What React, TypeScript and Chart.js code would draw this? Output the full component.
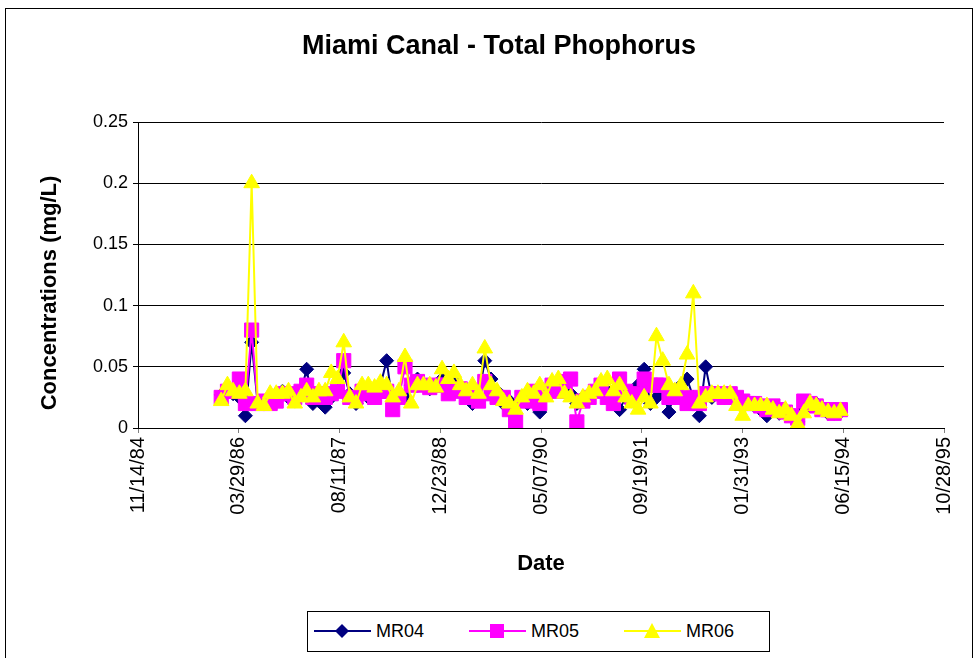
import React, { useEffect, useRef } from "react";
import { Chart, registerables } from "chart.js";

Chart.register(...registerables);

// Sampling months (first of month)
const sampleMonths = [
  "1986-01", "1986-02", "1986-03", "1986-04", "1986-05", "1986-06", "1986-07", "1986-08", "1986-09", "1986-10", "1986-11", "1986-12",
  "1987-01", "1987-02", "1987-03", "1987-04", "1987-05", "1987-06", "1987-07", "1987-08", "1987-09", "1987-10", "1987-11", "1987-12",
  "1988-01", "1988-02", "1988-03", "1988-04", "1988-05", "1988-06", "1988-07", "1988-08", "1988-09", "1988-10", "1988-11", "1988-12",
  "1989-01", "1989-02", "1989-03", "1989-04", "1989-05", "1989-06", "1989-07", "1989-08", "1989-09", "1989-10", "1989-11", "1989-12",
  "1990-01", "1990-02", "1990-03", "1990-04", "1990-05", "1990-06", "1990-07", "1990-08", "1990-09", "1990-10", "1990-11", "1990-12",
  "1991-01", "1991-02", "1991-03", "1991-04", "1991-05", "1991-06", "1991-07", "1991-08", "1991-09", "1991-10", "1991-11", "1991-12",
  "1992-01", "1992-02", "1992-03", "1992-04", "1992-05", "1992-06", "1992-07", "1992-08", "1992-09", "1992-10", "1992-11", "1992-12",
  "1993-01", "1993-02", "1993-03", "1993-04", "1993-05", "1993-06", "1993-07", "1993-08", "1993-09", "1993-10", "1993-11", "1993-12",
  "1994-01", "1994-02", "1994-03", "1994-04", "1994-05", "1994-06",
];

const mr04 = [
  0.027, 0.03, 0.028, 0.025, 0.01, 0.07, 0.02, 0.02, 0.025, 0.028,
  0.03, 0.025, 0.022, 0.03, 0.048, 0.02, 0.022, 0.017, 0.025, 0.03,
  0.045, 0.028, 0.02, 0.03, 0.025, 0.03, 0.035, 0.055, 0.02, 0.025,
  0.025, 0.035, 0.04, 0.035, 0.032, 0.035, 0.04, 0.03, 0.038, 0.03,
  0.028, 0.02, 0.025, 0.055, 0.04, 0.03, 0.02, 0.022, 0.018, 0.025,
  0.02, 0.03, 0.013, 0.028, 0.03, 0.03, 0.035, 0.028, 0.02, 0.025,
  0.025, 0.03, 0.035, 0.03, 0.025, 0.015, 0.025, 0.022, 0.035, 0.048,
  0.02, 0.025, 0.03, 0.013, 0.03, 0.035, 0.04, 0.025, 0.01, 0.05,
  0.025, 0.028, 0.025, 0.028, 0.022, 0.02, 0.02, 0.018, 0.015, 0.01,
  0.015, 0.012, 0.015, 0.01, 0.005, 0.015, 0.018, 0.02, 0.015, 0.012,
  0.012, 0.013,
];

const mr05 = [
  0.025, 0.03, 0.03, 0.04, 0.02, 0.08, 0.02, 0.022, 0.02, 0.022,
  0.028, 0.028, 0.025, 0.03, 0.035, 0.025, 0.028, 0.025, 0.028, 0.03,
  0.055, 0.025, 0.025, 0.03, 0.028, 0.025, 0.03, 0.03, 0.015, 0.025,
  0.05, 0.035, 0.038, 0.035, 0.033, 0.035, 0.035, 0.028, 0.03, 0.032,
  0.025, 0.025, 0.022, 0.038, 0.028, 0.025, 0.025, 0.015, 0.005, 0.025,
  0.022, 0.03, 0.02, 0.03, 0.035, 0.03, 0.038, 0.04, 0.005, 0.022,
  0.025, 0.03, 0.035, 0.025, 0.02, 0.04, 0.03, 0.025, 0.028, 0.04,
  0.035, 0.035, 0.035, 0.025, 0.03, 0.025, 0.02, 0.025, 0.02, 0.028,
  0.028, 0.028, 0.025, 0.028, 0.025, 0.022, 0.02, 0.02, 0.018, 0.015,
  0.018, 0.015, 0.013, 0.01, 0.008, 0.022, 0.02, 0.018, 0.015, 0.015,
  0.012, 0.015,
];

const mr06 = [
  0.022, 0.035, 0.03, 0.028, 0.03, 0.2, 0.02, 0.018, 0.028, 0.028,
  0.028, 0.03, 0.02, 0.025, 0.03, 0.025, 0.03, 0.03, 0.045, 0.04,
  0.07, 0.025, 0.02, 0.035, 0.035, 0.033, 0.037, 0.035, 0.025, 0.03,
  0.058, 0.02, 0.035, 0.035, 0.035, 0.033, 0.048, 0.04, 0.045, 0.035,
  0.03, 0.035, 0.028, 0.065, 0.035, 0.03, 0.022, 0.02, 0.015, 0.025,
  0.03, 0.028, 0.035, 0.025, 0.038, 0.04, 0.028, 0.025, 0.02, 0.025,
  0.028, 0.03, 0.038, 0.04, 0.03, 0.035, 0.025, 0.02, 0.015, 0.025,
  0.02, 0.075, 0.055, 0.035, 0.03, 0.035, 0.06, 0.11, 0.02, 0.025,
  0.028, 0.028, 0.028, 0.028, 0.018, 0.01, 0.018, 0.018, 0.018, 0.018,
  0.015, 0.012, 0.015, 0.01, 0.003, 0.012, 0.02, 0.018, 0.015, 0.013,
  0.012, 0.014,
];

const seriesNames = ["MR04", "MR05", "MR06"];
const seriesColors = ["#000080", "#FF00FF", "#FFFF00"];

// X axis: first tick date and step (days)
const xAxisStart = "1984-11-14";
const xTickStepDays = 500;
const xTickCount = 8;
const yMax = 0.25;
const yStep = 0.05;

const DAY_MS = 86400000;
const [oy, om, od] = xAxisStart.split("-").map(Number);
const originMs = Date.UTC(oy, om - 1, od);

function monthToDays(s: string): number {
  const [y, m] = s.split("-").map(Number);
  return Math.round((Date.UTC(y, m - 1, 1) - originMs) / DAY_MS);
}

function pad2(n: number): string {
  return n < 10 ? "0" + n : String(n);
}

function formatDays(days: number): string {
  const d = new Date(originMs + Math.round(days) * DAY_MS);
  return pad2(d.getUTCMonth() + 1) + "/" + pad2(d.getUTCDate()) + "/" + pad2(d.getUTCFullYear() % 100);
}

const FONT = "'Liberation Sans', Arial, Helvetica, sans-serif";

// Y-axis title drawn by a small plugin so it can sit where the reference has it
const yTitlePlugin = {
  id: "yTitleText",
  afterDraw(chart: any) {
    const ctx = chart.ctx;
    ctx.save();
    ctx.translate(50, 293);
    ctx.rotate(-Math.PI / 2);
    ctx.font = "bold 22px " + FONT;
    ctx.fillStyle = "#000";
    ctx.textAlign = "center";
    ctx.textBaseline = "middle";
    ctx.fillText("Concentrations (mg/L)", 0, 0);
    ctx.restore();
  },
};

function LegendMarker({ idx }: { idx: number }) {
  const c = seriesColors[idx];
  let marker: React.ReactNode;
  if (idx === 0) marker = <polygon points="28,3 35,10 28,17 21,10" fill={c} />;
  else if (idx === 1) marker = <rect x={21} y={3} width={14} height={14} fill={c} />;
  else marker = <polygon points="28,2 36,17 20,17" fill={c} />;
  return (
    <svg width={57} height={20} style={{ display: "block" }}>
      <line x1={0} y1={10} x2={57} y2={10} stroke={c} strokeWidth={2} />
      {marker}
    </svg>
  );
}

export default function App() {
  const canvasRef = useRef<HTMLCanvasElement | null>(null);

  useEffect(() => {
    const canvas = canvasRef.current;
    if (!canvas) return;
    const xs = sampleMonths.map(monthToDays);
    const all = [mr04, mr05, mr06];
    const pointStyles = ["rectRot", "rect", "triangle"];
    const radii = [7, 10, 9];
    const chart = new Chart(canvas, {
      type: "line",
      data: {
        datasets: all.map((vals, i) => ({
          label: seriesNames[i],
          data: vals.map((v, j) => ({ x: xs[j], y: v })),
          borderColor: seriesColors[i],
          backgroundColor: seriesColors[i],
          pointBackgroundColor: seriesColors[i],
          pointBorderColor: seriesColors[i],
          pointBorderWidth: 1,
          pointStyle: pointStyles[i] as any,
          pointRadius: radii[i],
          borderWidth: 2,
          tension: 0,
          fill: false,
          order: 3 - i,
        })),
      },
      plugins: [yTitlePlugin],
      options: {
        responsive: false,
        animation: false,
        events: [],
        layout: { padding: { left: 0, top: 122, right: 33, bottom: 79 } },
        plugins: {
          legend: { display: false },
          tooltip: { enabled: false },
          title: { display: false },
        },
        scales: {
          x: {
            type: "linear",
            min: 0,
            max: xTickStepDays * xTickCount,
            afterBuildTicks: (scale: any) => {
              const t = [];
              for (let i = 0; i <= xTickCount; i++) t.push({ value: i * xTickStepDays });
              scale.ticks = t;
            },
            afterFit: (scale: any) => {
              scale.height = 151;
            },
            ticks: {
              autoSkip: false,
              minRotation: 90,
              maxRotation: 90,
              padding: 4,
              color: "#000",
              font: { family: FONT, size: 20 },
              callback: (v: any) => formatDays(Number(v)),
            },
            grid: {
              drawOnChartArea: false,
              drawTicks: true,
              tickLength: 5,
              color: "#808080",
            },
            border: { display: true, color: "#000", width: 1 },
            title: {
              display: true,
              text: "Date",
              color: "#000",
              font: { family: FONT, size: 22, weight: "bold" },
              padding: { top: 4, bottom: 2 },
            },
          },
          y: {
            type: "linear",
            min: 0,
            max: yMax,
            ticks: {
              stepSize: yStep,
              padding: 5,
              color: "#000",
              font: { family: FONT, size: 18 },
              callback: (v: any) => String(Number(Number(v).toFixed(2))),
            },
            afterFit: (scale: any) => {
              scale.width = 138;
            },
            grid: {
              color: "#000",
              lineWidth: 1,
              drawTicks: true,
              tickLength: 5,
            },
            border: { display: true, color: "#000", width: 1 },
            title: { display: false },
          },
        },
      },
    } as any);
    return () => chart.destroy();
  }, []);

  return (
    <div style={{ position: "absolute", left: 0, top: 0, width: 977, height: 658, overflow: "hidden", background: "#fff", fontFamily: FONT }}>
      <div
        style={{
          position: "absolute",
          left: 5,
          top: 8,
          width: 968,
          height: 700,
          border: "1px solid #000",
          boxSizing: "border-box",
        }}
      />
      <canvas ref={canvasRef} width={977} height={658} style={{ position: "absolute", left: 0, top: 0 }} />
      <div
        style={{
          position: "absolute",
          left: 0,
          top: 30,
          width: 998,
          textAlign: "center",
          fontSize: 27,
          fontWeight: "bold",
          lineHeight: "30px",
          color: "#000",
        }}
      >
        Miami Canal - Total Phophorus
      </div>
      <div
        style={{
          position: "absolute",
          left: 307,
          top: 611,
          width: 463,
          height: 41,
          border: "1px solid #000",
          boxSizing: "border-box",
          background: "#fff",
        }}
      >
        {seriesNames.map((n, i) => (
          <div key={n} style={{ position: "absolute", left: 6 + i * 155, top: 9, display: "flex", alignItems: "center" }}>
            <LegendMarker idx={i} />
            <span style={{ fontSize: 18, marginLeft: 5, lineHeight: "20px" }}>{n}</span>
          </div>
        ))}
      </div>
    </div>
  );
}
